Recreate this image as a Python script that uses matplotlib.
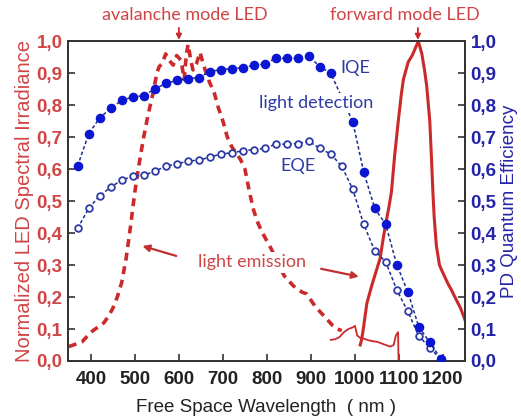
import matplotlib
matplotlib.use("Agg")
import matplotlib.pyplot as plt

# ---- data ----
# photodiode internal quantum efficiency (filled circles)
iqe_wl = [370, 395, 420, 445, 470, 495, 520, 545, 570, 595, 620, 645, 670, 695,
          720, 745, 770, 795, 820, 845, 870, 895, 920, 945, 995, 1020, 1045,
          1070, 1095, 1120, 1145, 1170, 1195]
iqe = [0.61, 0.71, 0.76, 0.79, 0.815, 0.825, 0.83, 0.85, 0.868, 0.877, 0.883,
       0.886, 0.905, 0.911, 0.914, 0.917, 0.924, 0.929, 0.947, 0.946, 0.947,
       0.954, 0.92, 0.90, 0.748, 0.59, 0.477, 0.427, 0.301, 0.216, 0.107,
       0.058, 0.007]

# photodiode external quantum efficiency (open circles)
eqe_wl = [370, 395, 420, 445, 470, 495, 520, 545, 570, 595, 620, 645, 670, 695,
          720, 745, 770, 795, 820, 845, 870, 895, 920, 945, 970, 995, 1020,
          1045, 1070, 1095, 1120, 1145, 1170, 1195]
eqe = [0.415, 0.477, 0.517, 0.543, 0.566, 0.577, 0.581, 0.593, 0.609, 0.616,
       0.625, 0.628, 0.637, 0.647, 0.651, 0.657, 0.661, 0.665, 0.678, 0.678,
       0.68, 0.687, 0.665, 0.647, 0.609, 0.537, 0.427, 0.344, 0.31, 0.222,
       0.155, 0.078, 0.042, 0.005]

# avalanche mode LED spectrum (dashed)
aval_wl = [350, 360, 370, 380, 390, 400, 410, 420, 430, 440, 450, 460, 470, 480,
           490, 500, 510, 520, 530, 540, 550, 555, 562, 570, 578, 587, 595, 605,
           612, 617, 621, 627, 632, 640, 648, 655, 662, 670, 680, 690, 700, 710,
           720, 730, 740, 750, 760, 770, 780, 790, 800, 810, 820, 830, 840, 850,
           860, 870, 880, 890, 900, 910, 920, 930, 940, 950, 960, 970]
aval = [0.045, 0.05, 0.055, 0.06, 0.075, 0.09, 0.10, 0.11, 0.12, 0.14, 0.165,
        0.20, 0.245, 0.32, 0.42, 0.53, 0.62, 0.70, 0.77, 0.83, 0.90, 0.92, 0.93,
        0.96, 0.94, 0.925, 0.955, 0.94, 0.88, 0.96, 0.99, 0.94, 0.91, 0.93,
        0.965, 0.93, 0.90, 0.87, 0.84, 0.79, 0.75, 0.70, 0.67, 0.65, 0.63, 0.60,
        0.53, 0.47, 0.43, 0.40, 0.375, 0.35, 0.32, 0.29, 0.265, 0.25, 0.235,
        0.225, 0.215, 0.21, 0.19, 0.17, 0.155, 0.14, 0.125, 0.11, 0.10, 0.095]

# noisy long-wavelength tail of the avalanche spectrum (thin solid)
tail_wl = [945, 955, 965, 975, 985, 995, 1000, 1005, 1012, 1020, 1030, 1040,
           1050, 1060, 1070, 1080, 1088, 1093, 1098, 1099]
tail = [0.066, 0.068, 0.075, 0.09, 0.10, 0.105, 0.11, 0.08, 0.072, 0.07, 0.065,
        0.062, 0.06, 0.055, 0.05, 0.045, 0.05, 0.08, 0.09, 0.0]

# forward mode LED spectrum (solid)
fwd_wl = [1012, 1015, 1019, 1027, 1038, 1048, 1057, 1065, 1070, 1077, 1083,
          1090, 1098, 1105, 1110, 1116, 1121, 1130, 1144, 1152, 1158, 1163,
          1170, 1174, 1177, 1180, 1185, 1192, 1197, 1205, 1212, 1220, 1227,
          1240, 1250]
fwd = [0.05, 0.066, 0.10, 0.18, 0.235, 0.28, 0.32, 0.39, 0.43, 0.48, 0.53,
       0.64, 0.745, 0.83, 0.88, 0.91, 0.935, 0.955, 1.0, 0.96, 0.91, 0.86,
       0.75, 0.63, 0.53, 0.45, 0.36, 0.30, 0.284, 0.26, 0.24, 0.22, 0.20,
       0.165, 0.128]

x_ticks = [400, 500, 600, 700, 800, 900, 1000, 1100, 1200]
y_ticks = [0.0, 0.1, 0.2, 0.3, 0.4, 0.5, 0.6, 0.7, 0.8, 0.9, 1.0]
y_tick_labels = ["0,0", "0,1", "0,2", "0,3", "0,4", "0,5", "0,6", "0,7", "0,8",
                 "0,9", "1,0"]

# ---- styling ----
RED = "#cc2a2a"
RED_TXT = "#d04545"
BLUE = "#0a16d2"
BLUE_LINE = "#1a2a8e"
BLUE_TXT = "#2e3aa6"
BLUE_TICK = "#2424a8"
ANN_FONT = "Lato"
TICK_SIZE = 13.5

plt.rcParams["font.family"] = "Liberation Sans"

fig = plt.figure(figsize=(5.21, 4.20), dpi=100)
ax = fig.add_axes([0.1305, 0.1405, 0.762, 0.7615])
ax2 = ax.twinx()

# LED spectra on the left axis
ax.plot(aval_wl, aval, color=RED, lw=2.6, dashes=(2.2, 1.6), zorder=2)
ax.plot(tail_wl, tail, color=RED, lw=1.3, zorder=2)
ax.plot(fwd_wl, fwd, color=RED, lw=2.2, zorder=2)

# quantum efficiency on the right axis
ax2.plot(eqe_wl, eqe, color=BLUE_LINE, lw=1.1, dashes=(2.2, 1.6),
         marker="o", ms=4.8, mfc="white", mec=BLUE_TXT, mew=1.3, zorder=3)
ax2.plot(iqe_wl, iqe, color=BLUE_LINE, lw=1.1, dashes=(2.2, 1.6),
         marker="o", ms=5.9, mfc=BLUE, mec=BLUE, zorder=4)

for a in (ax, ax2):
    a.set_xlim(348, 1250)
    a.set_ylim(0, 1.0)
    for s in a.spines.values():
        s.set_color("#333333")
        s.set_linewidth(1.3)

ax.set_xticks(x_ticks, labels=[str(v) for v in x_ticks], fontweight="bold",
              fontsize=TICK_SIZE, color="#222222")
ax.set_yticks(y_ticks, labels=y_tick_labels, fontweight="bold",
              fontsize=TICK_SIZE, color=RED_TXT)
ax2.set_yticks(y_ticks, labels=y_tick_labels, fontweight="bold",
               fontsize=TICK_SIZE, color=BLUE_TICK)

ax.tick_params(axis="both", direction="in", length=5, width=1.2, color="#333333")
ax.tick_params(axis="x", pad=7)
ax.tick_params(axis="y", pad=4)
ax2.tick_params(axis="y", direction="in", length=5, width=1.2, color="#333333", pad=4)

ax.set_xlabel("Free Space Wavelength  ( nm )", fontsize=13.5,
              color="#222222", labelpad=8)
ax.set_ylabel("Normalized LED Spectral Irradiance", fontsize=14.5,
              color=RED_TXT, labelpad=2)
ax2.set_ylabel("PD Quantum Efficiency", fontsize=13.5, color=BLUE_TICK,
               labelpad=3)

# annotations
ax.text(614, 1.081, "avalanche mode LED", ha="center", va="center",
        family=ANN_FONT, fontsize=13, color=RED_TXT, clip_on=False)
ax.annotate("", xy=(600, 0.995), xytext=(600, 1.05),
            arrowprops=dict(arrowstyle="-|>", color=RED, lw=1.3,
                            mutation_scale=8), annotation_clip=False)
ax.text(1114, 1.081, "forward mode LED", ha="center", va="center",
        family=ANN_FONT, fontsize=13, color=RED_TXT, clip_on=False)
ax.annotate("", xy=(1143, 0.995), xytext=(1143, 1.05),
            arrowprops=dict(arrowstyle="-|>", color=RED, lw=1.3,
                            mutation_scale=8), annotation_clip=False)

ax2.text(1000, 0.917, "IQE", ha="center", va="center", family=ANN_FONT,
         fontsize=13, color=BLUE_TXT, zorder=6)
ax2.text(911, 0.806, "light detection", ha="center", va="center",
         family=ANN_FONT, fontsize=13, color=BLUE_TXT, zorder=6,
         bbox=dict(facecolor="white", edgecolor="none", pad=1.5))
ax2.text(870, 0.609, "EQE", ha="center", va="center", family=ANN_FONT,
         fontsize=13, color=BLUE_TXT, zorder=6)

ax2.text(767, 0.308, "light emission", ha="center", va="center",
         family=ANN_FONT, fontsize=13, color=RED_TXT, zorder=6,
         bbox=dict(facecolor="white", edgecolor="none", pad=1.5))
ax2.annotate("", xy=(511, 0.362), xytext=(600, 0.326),
             arrowprops=dict(arrowstyle="-|>", color="#c03030", lw=1.6,
                             mutation_scale=10), zorder=6)
ax2.annotate("", xy=(1015, 0.262), xytext=(917, 0.29),
             arrowprops=dict(arrowstyle="-|>", color="#c03030", lw=1.6,
                             mutation_scale=10), zorder=6)

fig.savefig("out.png", dpi=100)
